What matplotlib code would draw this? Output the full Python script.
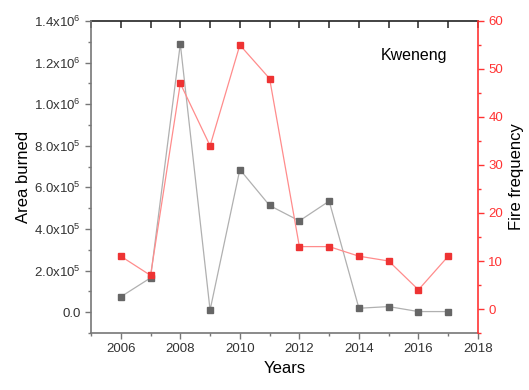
import matplotlib
matplotlib.use("Agg")
import matplotlib.pyplot as plt
from matplotlib.ticker import MultipleLocator, FuncFormatter

plt.rcParams['font.family'] = ['Liberation Sans', 'DejaVu Sans']
plt.rcParams['mathtext.fontset'] = 'custom'
plt.rcParams['mathtext.rm'] = 'Liberation Sans'

years = [2006, 2007, 2008, 2009, 2010, 2011, 2012, 2013, 2014, 2015, 2016, 2017]
area_burned = [7.4e4, 1.65e5, 1.29e6, 1.0e4, 6.86e5, 5.13e5, 4.39e5, 5.34e5, 1.9e4, 2.7e4, 3e3, 3e3]
fire_freq = [11, 7, 47, 34, 55, 48, 13, 13, 11, 10, 4, 11]

def sci(v, pos):
    if v == 0:
        return "0.0"
    e = len(str(int(abs(v)))) - 1
    m = v / 10 ** e
    return r"%.1fx10$^{%d}$" % (m, e)

fig = plt.figure(figsize=(5.29, 3.90), dpi=100)
ax1 = fig.add_axes([91/529, 1 - 333/390, (478-91)/529, (333-21)/390])
ax2 = ax1.twinx()

ax1.plot(years, area_burned, color='#b0b0b0', linewidth=0.9, marker='s', markersize=4.5,
         markerfacecolor='#666666', markeredgecolor='#666666', zorder=3)
ax2.plot(years, fire_freq, color='#ff8c8c', linewidth=0.9, marker='s', markersize=4.5,
         markerfacecolor='#ee3333', markeredgecolor='#ee3333', zorder=3)

ax1.set_xlim(2005, 2018)
ax1.set_ylim(-1e5, 1.4e6)
ax2.set_ylim(-5, 60)

ax1.xaxis.set_major_locator(MultipleLocator(2))
ax1.xaxis.set_minor_locator(MultipleLocator(1))
ax1.yaxis.set_major_locator(MultipleLocator(2e5))
ax1.yaxis.set_minor_locator(MultipleLocator(1e5))
ax1.yaxis.set_major_formatter(FuncFormatter(sci))
ax2.yaxis.set_major_locator(MultipleLocator(10))
ax2.yaxis.set_minor_locator(MultipleLocator(5))

gray = '#777777'
red = '#ff3333'
ax1.tick_params(axis='both', which='major', labelsize=9.5, length=4, width=1, color=gray, labelcolor='#333333')
ax1.tick_params(axis='both', which='minor', length=2.5, width=1, color=gray)
ax1.tick_params(axis='x', which='both', top=False, direction='out')
ax2.tick_params(axis='y', which='major', labelsize=9.5, length=4, width=1, color=red, labelcolor=red)
ax2.tick_params(axis='y', which='minor', length=2.5, width=1, color=red)

# top ticks point inward, one per year
secx = ax1.secondary_xaxis('top')
secx.xaxis.set_major_locator(MultipleLocator(1))
secx.tick_params(direction='in', length=5, width=1.1, color='#222222', labeltop=False)
secx.spines['top'].set_color('#222222')
secx.spines['top'].set_linewidth(1.2)

for s in ['left', 'bottom']:
    ax1.spines[s].set_color(gray)
    ax1.spines[s].set_linewidth(1.2)
ax2.spines['right'].set_color(red)
ax2.spines['right'].set_linewidth(1.2)
ax2.spines['left'].set_visible(False)
ax2.spines['top'].set_visible(False)
ax2.spines['bottom'].set_visible(False)
ax1.spines['top'].set_visible(False)
ax1.spines['right'].set_visible(False)

ax1.set_xlabel("Years", fontsize=12)
ax1.set_ylabel("Area burned", fontsize=12, labelpad=2)
ax2.set_ylabel("Fire frequency", fontsize=12)

ax1.text(0.92, 0.89, "Kweneng", transform=ax1.transAxes, ha='right', va='center', fontsize=11.5)

fig.savefig("out.png", dpi=100)
